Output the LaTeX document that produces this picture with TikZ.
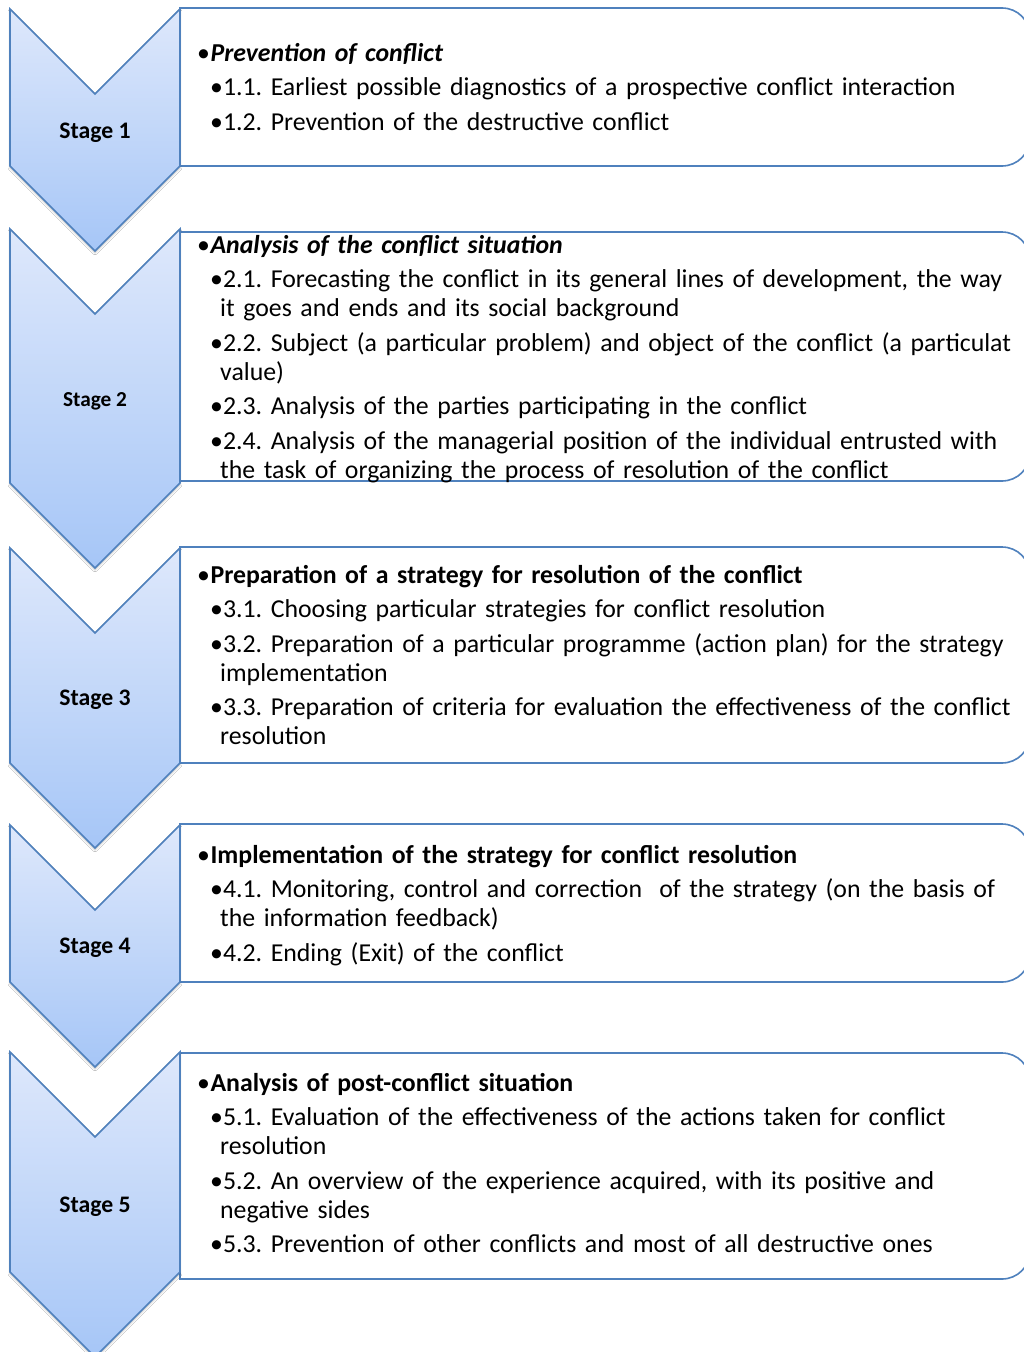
\documentclass[tikz,border=0pt]{standalone}
\usepackage{fontspec}
\setmainfont{Carlito}
\usepackage{tikz}
\usetikzlibrary{positioning, shadows.blur}
\frenchspacing

\definecolor{stageblue}{RGB}{79,129,189}
\definecolor{stagetop}{RGB}{222,232,251}
\definecolor{stagebot}{RGB}{166,198,247}

\newcommand{\stagehead}[1]{\noindent\textbullet\hspace{0.5pt}\textbf{#1}\par}
\newcommand{\stageitem}[1]{\hangindent=23pt\hangafter=1\noindent\hspace*{13pt}\textbullet#1\par}

\tikzset{
  chevron/.style={draw=stageblue, line width=1.6pt, line join=miter, top color=stagetop, bottom color=stagebot,
    blur shadow={shadow xshift=0pt, shadow yshift=-2pt, shadow opacity=25}},
  stagebox/.style={draw=stageblue, line width=1.6pt, fill=white},
  stagelabel/.style={font=\fontsize{23.7}{28}\selectfont\bfseries, inner sep=0pt},
  stagetext/.style={anchor=base west, inner sep=0pt, text width=830pt, align=left,
    font=\fontsize{25.8}{29}\selectfont\setlength{\parskip}{5.5pt}}
}

\begin{document}
\begin{tikzpicture}[x=1pt, y=-1pt]
\useasboundingbox (0,0) rectangle (1024,1352);
\clip (0,0) rectangle (1024,1352);
\fill[white] (0,0) rectangle (1024,1352);

\foreach \bt/\bb in {8/166, 232/481, 547/763, 824/982, 1053/1279} {
  \draw[stagebox] (180,\bb) -- (180,\bt) [rounded corners=28pt] -- (1030,\bt) -- (1030,\bb) [sharp corners] -- cycle;
}

\foreach \t/\b in {9/166, 229/483, 548/763, 825/982, 1052/1272} {
  \draw[chevron] (10,\t) -- (95,\t+85) -- (180,\t) -- (180,\b) -- (95,\b+85) -- (10,\b) -- cycle;
}

\node[stagelabel] (s1) at (95,133) {Stage 1};
\node[stagelabel, font=\fontsize{21.3}{26}\selectfont\bfseries] (s2) at (95,401) {Stage 2};
\node[stagelabel] (s3) at (95,700) {Stage 3};
\node[stagelabel] (s4) at (95,948) {Stage 4};
\node[stagelabel] (s5) at (95,1207) {Stage 5};

\node[stagetext] (t1) at (197,61) {%
\stagehead{\textit{Prevention of conflict}}
\stageitem{1.1. Earliest possible diagnostics of a prospective conflict interaction}
\stageitem{1.2. Prevention of the destructive conflict}};

\node[stagetext] (t2) at (197,253) {%
\stagehead{\textit{Analysis of the conflict situation}}
\stageitem{2.1. Forecasting the conflict in its general lines of development, the way\newline it goes and ends and its social background}
\stageitem{2.2. Subject (a particular problem) and object of the conflict (a particulat\newline value)}
\stageitem{2.3. Analysis of the parties participating in the conflict}
\stageitem{2.4. Analysis of the managerial position of the individual entrusted with\newline the task of organizing the process of resolution of the conflict}};

\node[stagetext] (t3) at (197,583) {%
\stagehead{Preparation of a strategy for resolution of the conflict}
\stageitem{3.1. Choosing particular strategies for conflict resolution}
\stageitem{3.2. Preparation of a particular programme (action plan) for the strategy\newline implementation}
\stageitem{3.3. Preparation of criteria for evaluation the effectiveness of the conflict\newline resolution}};

\node[stagetext] (t4) at (197,863) {%
\stagehead{Implementation of the strategy for conflict resolution}
\stageitem{4.1. Monitoring, control and correction\ \ of the strategy (on the basis of\newline the information feedback)}
\stageitem{4.2. Ending (Exit) of the conflict}};

\node[stagetext] (t5) at (197,1091) {%
\stagehead{Analysis of post-conflict situation}
\stageitem{5.1. Evaluation of the effectiveness of the actions taken for conflict\newline resolution}
\stageitem{5.2. An overview of the experience acquired, with its positive and\newline negative sides}
\stageitem{5.3. Prevention of other conflicts and most of all destructive ones}};
\end{tikzpicture}
\end{document}
